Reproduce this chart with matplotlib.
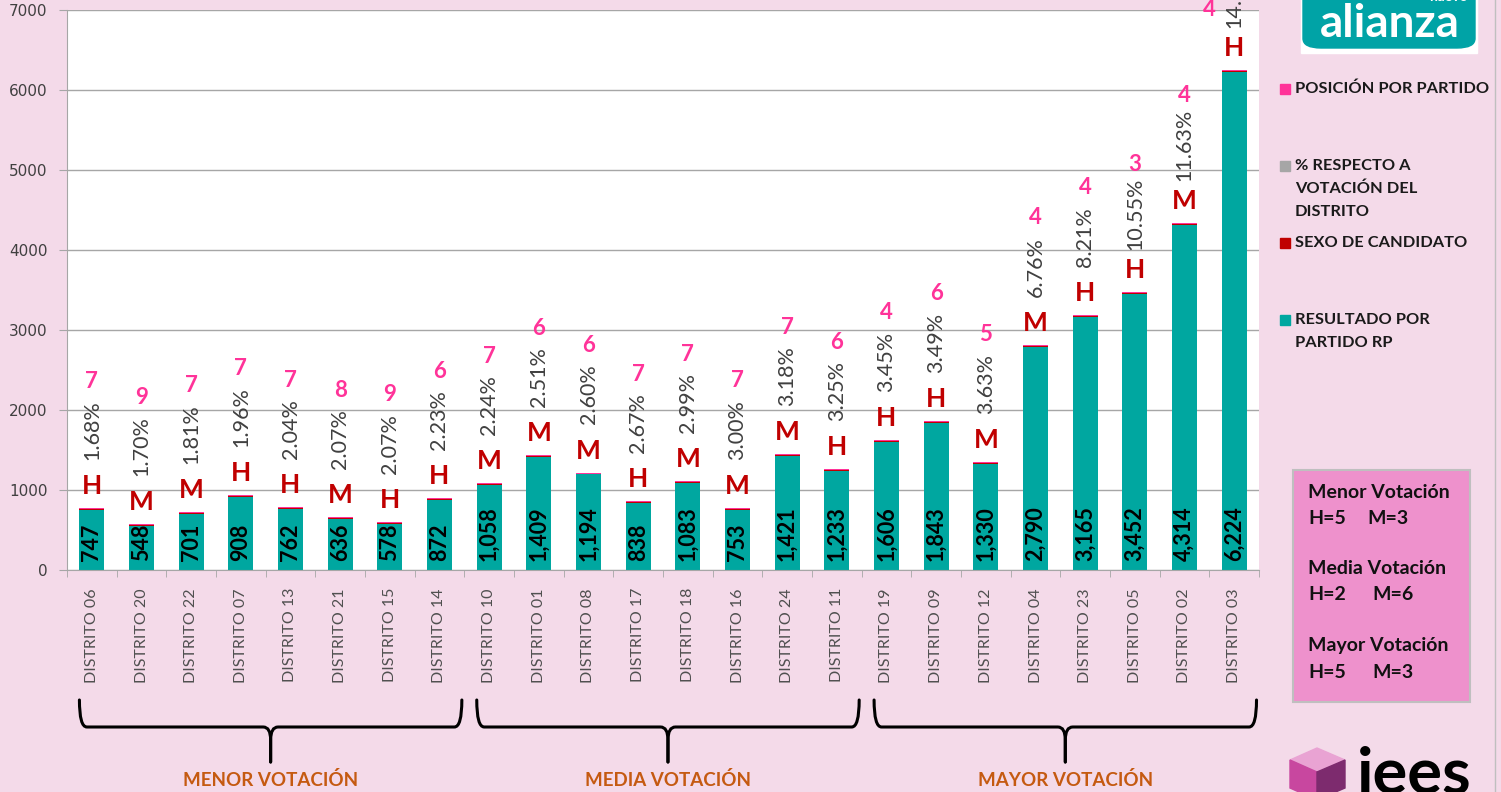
import numpy as np
import matplotlib.pyplot as plt
import matplotlib.transforms as mtransforms
from matplotlib.patches import Rectangle, FancyBboxPatch, Polygon, PathPatch
from matplotlib.path import Path

plt.rcParams['font.family'] = ['Lato', 'DejaVu Sans']

# datos
distritos = ['DISTRITO 06', 'DISTRITO 20', 'DISTRITO 22', 'DISTRITO 07', 'DISTRITO 13',
             'DISTRITO 21', 'DISTRITO 15', 'DISTRITO 14', 'DISTRITO 10', 'DISTRITO 01',
             'DISTRITO 08', 'DISTRITO 17', 'DISTRITO 18', 'DISTRITO 16', 'DISTRITO 24',
             'DISTRITO 11', 'DISTRITO 19', 'DISTRITO 09', 'DISTRITO 12', 'DISTRITO 04',
             'DISTRITO 23', 'DISTRITO 05', 'DISTRITO 02', 'DISTRITO 03']
votos = [747, 548, 701, 908, 762, 636, 578, 872, 1058, 1409, 1194, 838,
         1083, 753, 1421, 1233, 1606, 1843, 1330, 2790, 3165, 3452, 4314, 6224]
sexo = ['H', 'M', 'M', 'H', 'H', 'M', 'H', 'H', 'M', 'M', 'M', 'H',
        'M', 'M', 'M', 'H', 'H', 'H', 'M', 'M', 'H', 'H', 'M', 'H']
porcentaje = [1.68, 1.70, 1.81, 1.96, 2.04, 2.07, 2.07, 2.23, 2.24, 2.51, 2.60, 2.67,
              2.99, 3.00, 3.18, 3.25, 3.45, 3.49, 3.63, 6.76, 8.21, 10.55, 11.63, 14.37]
posicion = [7, 9, 7, 7, 7, 8, 9, 6, 7, 6, 6, 7, 7, 7, 7, 6, 4, 6, 5, 4, 4, 3, 4, 4]
grupos = ['MENOR VOTACIÓN', 'MEDIA VOTACIÓN', 'MAYOR VOTACIÓN']
grupo_tam = [8, 8, 8]
resumen = ['Menor Votación', 'Media Votación', 'Mayor Votación']
resumen_h = [5, 2, 5]
resumen_m = [3, 6, 3]
leyenda = ['POSICIÓN POR PARTIDO', '% RESPECTO A\nVOTACIÓN DEL\nDISTRITO',
           'SEXO DE CANDIDATO', 'RESULTADO POR\nPARTIDO RP']

BG = '#F4DAE9'
TEAL = '#00A7A0'
RED = '#C00000'
PINK = '#FF3399'
GRAY = '#A6A6A6'
THIN = 12

W, H = 1501, 792
fig = plt.figure(figsize=(W / 100, H / 100), dpi=100)
fig.patch.set_facecolor(BG)

def fx(x):
    return x / W

def fy(y):
    return 1 - y / H

ax = fig.add_axes([fx(67), fy(570), (1259 - 67) / W, 560 / H])
ax.set_facecolor('white')

x = np.arange(len(distritos))
v = np.array(votos)
ax.bar(x, v, width=0.5, color=TEAL, zorder=2)
ax.bar(x, THIN, bottom=v, width=0.5, color=RED, zorder=2)
ax.bar(x, THIN, bottom=v + THIN, width=0.5, color=PINK, zorder=2)

ax.set_xlim(-0.5, len(distritos) - 0.5)
ax.set_ylim(0, 7000)
ax.set_yticks(np.arange(0, 7001, 1000))
ax.yaxis.grid(True, color=GRAY, lw=1)
ax.set_axisbelow(True)
for s in ['top', 'right']:
    ax.spines[s].set_visible(False)
for s in ['left', 'bottom']:
    ax.spines[s].set_color(GRAY)
ax.tick_params(axis='y', length=6, color=GRAY, labelsize=11, labelcolor='#404040', pad=8)
for lab in ax.get_yticklabels():
    lab.set_family('DejaVu Sans')
ax.set_xticks(x)
ax.set_xticklabels(distritos, rotation=90, fontsize=11.5, color='#505050')
ax.set_xticks(np.arange(-0.5, len(distritos), 1), minor=True)
ax.tick_params(axis='x', which='major', length=0, pad=13)
ax.tick_params(axis='x', which='minor', length=5, color=GRAY)

for i in range(len(distritos)):
    top = votos[i] + 2 * THIN
    ax.annotate(f'{votos[i]:,}', (i, 0), xytext=(0, 9), textcoords='offset pixels',
                rotation=90, ha='center', va='bottom', fontsize=15.5, fontweight='bold',
                color='black', zorder=3)
    ax.annotate(sexo[i], (i, top), xytext=(0, 22), textcoords='offset pixels',
                ha='center', va='center', fontsize=19, fontweight='bold', color=RED,
                annotation_clip=False)
    ax.annotate(f'{porcentaje[i]:.2f}%', (i, top), xytext=(0, 78), textcoords='offset pixels',
                rotation=90, ha='center', va='center', fontsize=15.5, color='#404040',
                annotation_clip=False)
    ytop = ax.transData.transform((i, top))[1]
    dx, dy = 0, 127
    if ytop + dy > H - 10:
        dx, dy = -25, H - 10 - ytop
    ax.annotate(str(posicion[i]), (i, top), xytext=(dx, dy), textcoords='offset pixels',
                ha='center', va='center', fontsize=16, fontweight='bold', color=PINK,
                annotation_clip=False)

# llaves de los grupos
trans = mtransforms.blended_transform_factory(ax.transData, fig.transFigure)
inicio = 0
for g, n in zip(grupos, grupo_tam):
    L = inicio - 0.25
    R = inicio + n - 0.55
    M = (L + R) / 2
    y0, yh, yb = fy(700), fy(727), fy(762)
    d = 0.15
    ym = fy(740)
    for a, s in [(L, 1), (R, -1)]:
        verts = [(a, y0), (a, yh), (a + s * d, yh), (M - s * d, yh), (M, yh), (M, ym), (M, yb)]
        codes = [Path.MOVETO, Path.CURVE3, Path.CURVE3, Path.LINETO, Path.CURVE3, Path.CURVE3, Path.LINETO]
        fig.patches.append(PathPatch(Path(verts, codes), transform=trans, fill=False,
                                     lw=2.2, ec='black', capstyle='round'))
    fig.text(M, fy(780), g, transform=trans, ha='center', va='center',
             fontsize=13.5, fontweight='bold', color='#C55A11')
    inicio += n

# leyenda
colores = [PINK, GRAY, RED, TEAL]
ys = [89, 166, 243, 320]
for c, t, yy in zip(colores, leyenda, ys):
    fig.patches.append(Rectangle((fx(1280), fy(yy + 5)), 10 / W, 10 / H,
                                 transform=fig.transFigure, color=c))
    for k, linea in enumerate(t.split('\n')):
        fig.text(fx(1295), fy(yy + 23 * k), linea, ha='left', va='center',
                 fontsize=11.8, fontweight='bold', color='#1A1A1A')

# cuadro resumen
fig.patches.append(Rectangle((fx(1293), fy(702)), 177 / W, 232 / H, transform=fig.transFigure,
                             fc='#EE91CC', ec='#BFBFBF', lw=1.5))
for k, (t, h, m) in enumerate(zip(resumen, resumen_h, resumen_m)):
    y1 = 492 + 77 * k
    fig.text(fx(1308), fy(y1), t, ha='left', va='center', fontsize=14, fontweight='bold', color='#111111')
    fig.text(fx(1308), fy(y1 + 26), f'H={h}', ha='left', va='center', fontsize=14, fontweight='bold', color='#111111')
    fig.text(fx(1367 if k == 0 else 1372), fy(y1 + 26), f'M={m}', ha='left', va='center',
             fontsize=14, fontweight='bold', color='#111111')

# logo nueva alianza
fig.patches.append(Rectangle((fx(1301), fy(53)), 176 / W, 60 / H, transform=fig.transFigure,
                             color='white'))
fig.patches.append(FancyBboxPatch((fx(1303), fy(48)), 172 / W, 60 / H,
                                  boxstyle='round,pad=0,rounding_size=0.012',
                                  transform=fig.transFigure, color='#00A3A6'))
fig.text(fx(1390), fy(24), 'alianza', ha='center', va='center', fontsize=33,
         fontweight='bold', color='white')
fig.text(fx(1448), fy(-3), 'nuevo', ha='center', va='center', fontsize=10,
         fontweight='bold', color='white')

# logo iees
fig.patches.append(Polygon([(fx(1290), fy(760)), (fx(1317), fy(748)), (fx(1345), fy(760)), (fx(1317), fy(772))],
                           closed=True, transform=fig.transFigure, color='#E9A3D3'))
fig.patches.append(Polygon([(fx(1290), fy(760)), (fx(1317), fy(772)), (fx(1317), fy(800)), (fx(1290), fy(788))],
                           closed=True, transform=fig.transFigure, color='#C8479F'))
fig.patches.append(Polygon([(fx(1317), fy(772)), (fx(1345), fy(760)), (fx(1345), fy(788)), (fx(1317), fy(800))],
                           closed=True, transform=fig.transFigure, color='#7D2B6E'))
fig.text(fx(1357), fy(746), 'iees', ha='left', va='top', fontsize=47,
         fontweight='bold', color='black')

# linea del borde derecho
fig.add_artist(plt.Line2D([fx(1495), fx(1495)], [0, 1], transform=fig.transFigure,
                          color='#BFBFBF', lw=1))

fig.savefig('out.png', dpi=100, facecolor=BG)
